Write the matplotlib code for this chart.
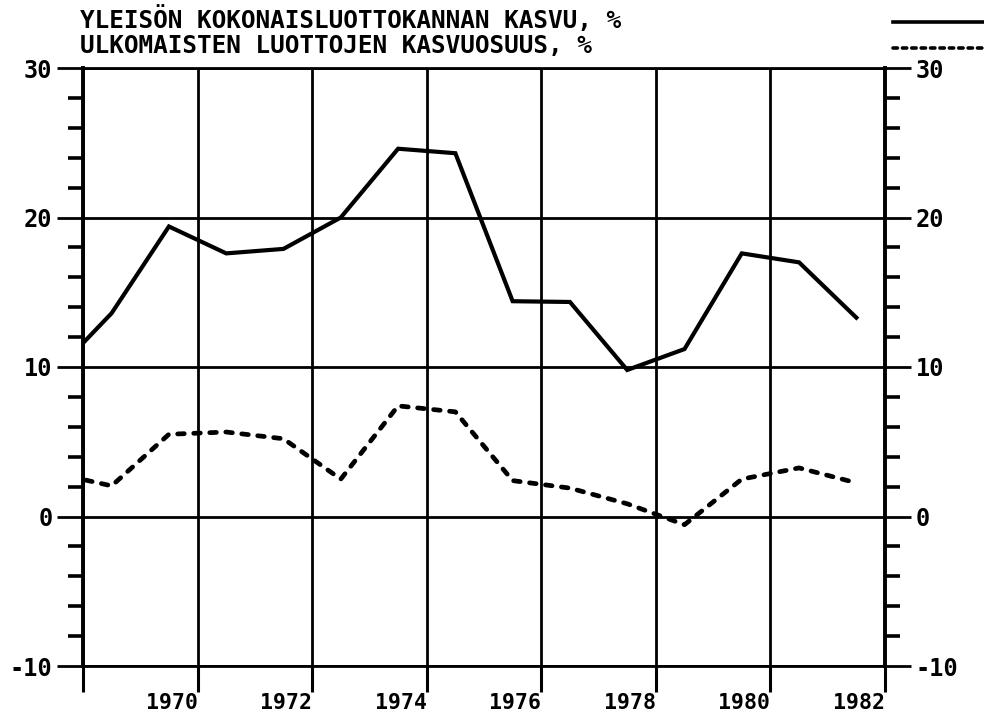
import matplotlib
matplotlib.use("Agg")
import matplotlib.pyplot as plt
from matplotlib.lines import Line2D
from matplotlib.ticker import MultipleLocator

# data (annual values, %)
years = [1968, 1969, 1970, 1971, 1972, 1973, 1974, 1975,
         1976, 1977, 1978, 1979, 1980, 1981, 1982]
kokonais = [9.6, 13.6, 19.4, 17.6, 17.9, 20.0, 24.6, 24.3,
            14.4, 14.35, 9.8, 11.2, 17.6, 17.0, 13.3]
ulkomaiset = [2.9, 2.05, 5.5, 5.65, 5.2, 2.5, 7.4, 7.0,
              2.4, 1.9, 0.85, -0.55, 2.5, 3.25, 2.25]

title1 = "YLEISÖN KOKONAISLUOTTOKANNAN KASVU, %"
title2 = "ULKOMAISTEN LUOTTOJEN KASVUOSUUS, %"
year_ticks = [1968.5, 1970.5, 1972.5, 1974.5, 1976.5, 1978.5, 1980.5, 1982.5]
year_labels = ["", "1970", "1972", "1974", "1976", "1978", "1980", "1982"]
y_ticks = [-10, 0, 10, 20, 30]

font = dict(family="DejaVu Sans Mono", weight="bold", size=17)
xfont = dict(family="DejaVu Sans Mono", weight="bold", size=15.5)
tfont = dict(family="DejaVu Sans Mono", weight="bold", size=17.6)

W, H = 984, 721
fig = plt.figure(figsize=(W / 100, H / 100), dpi=100)
ax = fig.add_axes([83 / W, 1 - 666 / H, (885 - 83) / W, (666 - 68) / H])

ax.plot(years, kokonais, color="black", lw=3.0, solid_joinstyle="miter")
ax.plot(years, ulkomaiset, color="black", lw=3.4, dashes=(1.4, 2.0),
        dash_capstyle="round")

ax.set_xlim(1968.5, 1982.5)
ax.set_ylim(-10, 30)

# akselit ja ruudukko
ax.set_xticks(year_ticks)
ax.set_xticklabels(year_labels, ha="right", fontdict=xfont)
ax.set_yticks(y_ticks)
ax.set_yticklabels([str(v) for v in y_ticks], fontdict=font)
ax.yaxis.set_minor_locator(MultipleLocator(2))

ax.tick_params(axis="x", which="major", direction="out", length=19, width=2.2,
               pad=0.5, top=False)
ax.tick_params(axis="y", which="major", direction="out", length=19, width=2.0,
               pad=3, left=True, right=True, labelleft=True, labelright=True)
ax.tick_params(axis="y", which="minor", direction="out", length=11, width=2.6,
               left=True, right=True)

ax.grid(True, which="major", color="black", lw=2.0)
for side in ["top", "bottom"]:
    ax.spines[side].set_linewidth(2.0)
for side in ["left", "right"]:
    ax.spines[side].set_linewidth(2.8)

# otsikot ja selitteet
fig.text(80 / W, 1 - 20 / H, title1, ha="left", va="center", **tfont)
fig.text(80 / W, 1 - 46 / H, title2, ha="left", va="center", **tfont)
fig.add_artist(Line2D([893 / W, 1.0], [1 - 22 / H] * 2, transform=fig.transFigure,
                      color="black", lw=2.6))
fig.add_artist(Line2D([893 / W, 1.0], [1 - 48 / H] * 2, transform=fig.transFigure,
                      color="black", lw=2.6, dashes=(1.2, 1.4),
                      dash_capstyle="round"))

fig.savefig("out.png", dpi=100)
